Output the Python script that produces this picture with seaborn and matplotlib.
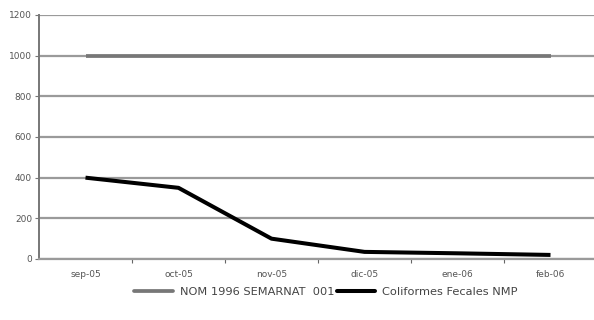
import matplotlib
matplotlib.use("Agg")
import matplotlib.pyplot as plt
import seaborn as sns
import pandas as pd

months = ["sep-05", "oct-05", "nov-05", "dic-05", "ene-06", "feb-06"]
nom = [1000, 1000, 1000, 1000, 1000, 1000]
coliformes = [400, 350, 100, 35, 28, 20]
yticks = [0, 200, 400, 600, 800, 1000, 1200]
series_names = ["NOM 1996 SEMARNAT  001", "Coliformes Fecales NMP"]

df = pd.DataFrame({
    "mes": months * 2,
    "valor": nom + coliformes,
    "serie": [series_names[0]] * len(months) + [series_names[1]] * len(months),
})
df["x"] = list(range(len(months))) * 2

sns.set_style("white")
plt.rcParams["font.family"] = ["DejaVu Sans"]

fig = plt.figure(figsize=(5.94, 3.2), dpi=100)
ax = fig.add_axes([39 / 594, 61 / 320, 558 / 594, 244 / 320])

sns.lineplot(data=df, x="x", y="valor", hue="serie",
             palette={series_names[0]: "#777777", series_names[1]: "#000000"},
             ax=ax, legend=False, sort=False)
for line, lw in zip(ax.lines, [2.7, 2.9]):
    line.set_linewidth(lw)
    line.set_solid_capstyle("butt")
    line.set_solid_joinstyle("round")

ax.set_xlim(-0.5, len(months) - 0.5)
ax.set_ylim(0, 1200)
ax.set_yticks(yticks)
ax.set_yticklabels([str(v) for v in yticks], fontsize=6.5, color="#555555")
ax.set_xticks(range(len(months)))
ax.set_xticklabels(months, fontsize=6.5, color="#555555")
ax.tick_params(axis="x", length=0, pad=8)
ax.set_xticks([i + 0.5 for i in range(len(months) - 1)], minor=True)
ax.tick_params(axis="x", which="minor", bottom=True, length=3, color="#666666", width=0.8)
ax.tick_params(axis="y", length=3, color="#777777", width=0.8, pad=2, left=True)
ax.grid(axis="y", color="#9a9a9a", linewidth=1.6)
ax.set_axisbelow(True)
for s in ["top", "right"]:
    ax.spines[s].set_visible(False)
ax.spines["left"].set_color("#777777")
ax.spines["left"].set_linewidth(1.4)
ax.spines["bottom"].set_color("#9a9a9a")
ax.spines["bottom"].set_linewidth(1.6)
ax.set_xlabel("")
ax.set_ylabel("")

from matplotlib.lines import Line2D
handles = [Line2D([], [], color="#777777", lw=2.7),
           Line2D([], [], color="#000000", lw=2.9)]
fig.legend(handles, series_names, loc="center", bbox_to_anchor=(326 / 594, 1 - 292 / 320),
           ncol=2, frameon=False, fontsize=8.2, handlelength=3.4, handletextpad=0.6,
           columnspacing=0.2, labelcolor="#444444")

fig.savefig("out.png", dpi=100)
